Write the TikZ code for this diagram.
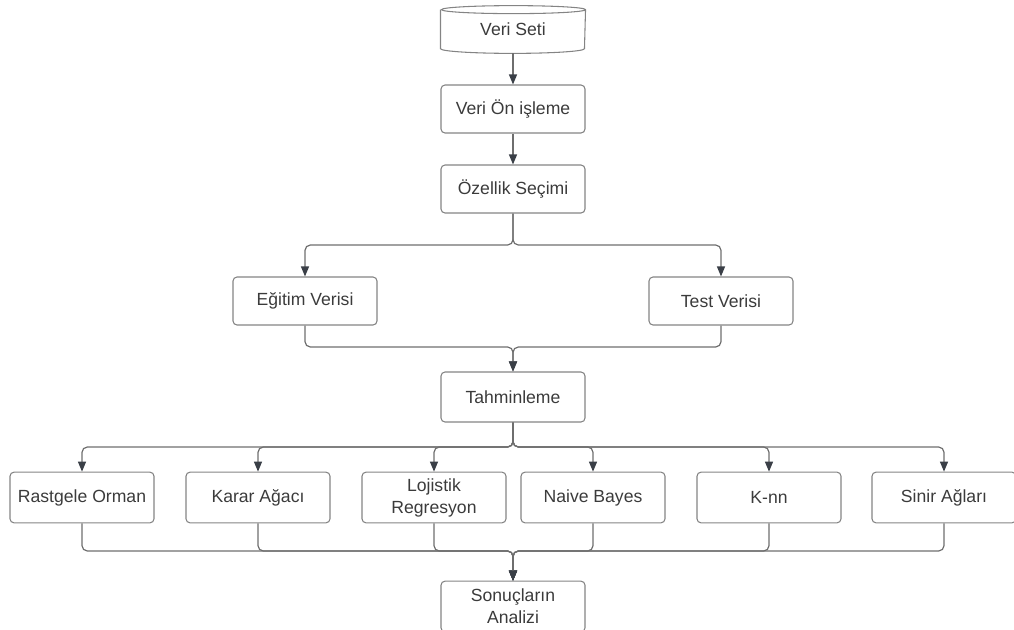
\documentclass[tikz,border=0pt]{standalone}
\usepackage{fontspec}
\setmainfont{Liberation Sans}
\usetikzlibrary{arrows.meta}
\definecolor{edgegray}{HTML}{6E6E6E}
\definecolor{tipgray}{HTML}{3A3F47}
\definecolor{txtgray}{HTML}{3B3B3B}
\tikzset{
    box/.style={draw=edgegray!85, line width=0.8pt, rounded corners=3pt,
        minimum width=108pt, minimum height=36pt, align=center,
        text=txtgray, font=\fontsize{13.2}{16.5}\selectfont},
    link/.style={draw=edgegray, line width=0.9pt, rounded corners=4pt},
    arr/.style={link, -{Triangle[length=7.5pt, width=6pt, color=tipgray]}}
}

\begin{document}
\begin{tikzpicture}[x=0.75pt, y=-0.75pt]
    \useasboundingbox (0,0) rectangle (1014,629);
    \node[box, draw=none, minimum height=35pt] (veri) at (513,29.5) {Veri Seti};
    \draw[edgegray!85, line width=0.8pt] ([yshift=-3pt]veri.north west) -- ([yshift=3.5pt]veri.south west)
        arc[start angle=180, end angle=360, x radius=54pt, y radius=3.5pt]
        -- ([yshift=-3pt]veri.north east)
        arc[start angle=0, end angle=360, x radius=54pt, y radius=3pt];
    \node[box] (onisleme) at (513,109) {Veri Ön işleme};
    \node[box] (ozellik) at (513,189) {Özellik Seçimi};
    \node[box] (egitim) at (305,301) {Eğitim Verisi};
    \node[box] (test) at (721,301) {Test Verisi};
    \node[box, minimum height=37.5pt] (tahmin) at (513,397) {Tahminleme};
    \node[box, minimum height=38pt] (rorman) at (82,497.5) {Rastgele Orman};
    \node[box, minimum height=38pt] (karar) at (258,497.5) {Karar Ağacı};
    \node[box, minimum height=38pt] (lojistik) at (434,497.5) {Lojistik\\Regresyon};
    \node[box, minimum height=38pt] (naive) at (593,497.5) {Naive Bayes};
    \node[box, minimum height=38pt] (knn) at (769,497.5) {K-nn};
    \node[box, minimum height=38pt] (sinir) at (944,497.5) {Sinir Ağları};
    \node[box, minimum height=38pt] (sonuc) at (513,606.5) {Sonuçların\\Analizi};

    \coordinate (split1) at (513,245);
    \coordinate (merge1) at (513,347);
    \coordinate (split2) at (513,447);
    \coordinate (merge2) at (513,551);

    \draw[arr] (veri.south) -- (onisleme.north);
    \draw[arr] (onisleme.south) -- (ozellik.north);
    \draw[arr] (ozellik.south) -- (split1) -| (egitim.north);
    \draw[arr] (ozellik.south) -- (split1) -| (test.north);
    \draw[arr] (egitim.south) |- (merge1) -- (tahmin.north);
    \draw[arr] (test.south) |- (merge1) -- (tahmin.north);
    \draw[arr] (tahmin.south) -- (split2) -| (rorman.north);
    \draw[arr] (tahmin.south) -- (split2) -| (karar.north);
    \draw[arr] (tahmin.south) -- (split2) -| (lojistik.north);
    \draw[arr] (tahmin.south) -- (split2) -| (naive.north);
    \draw[arr] (tahmin.south) -- (split2) -| (knn.north);
    \draw[arr] (tahmin.south) -- (split2) -| (sinir.north);
    \draw[arr] (rorman.south) |- (merge2) -- (sonuc.north);
    \draw[arr] (karar.south) |- (merge2) -- (sonuc.north);
    \draw[arr] (lojistik.south) |- (merge2) -- (sonuc.north);
    \draw[arr] (naive.south) |- (merge2) -- (sonuc.north);
    \draw[arr] (knn.south) |- (merge2) -- (sonuc.north);
    \draw[arr] (sinir.south) |- (merge2) -- (sonuc.north);
\end{tikzpicture}
\end{document}
